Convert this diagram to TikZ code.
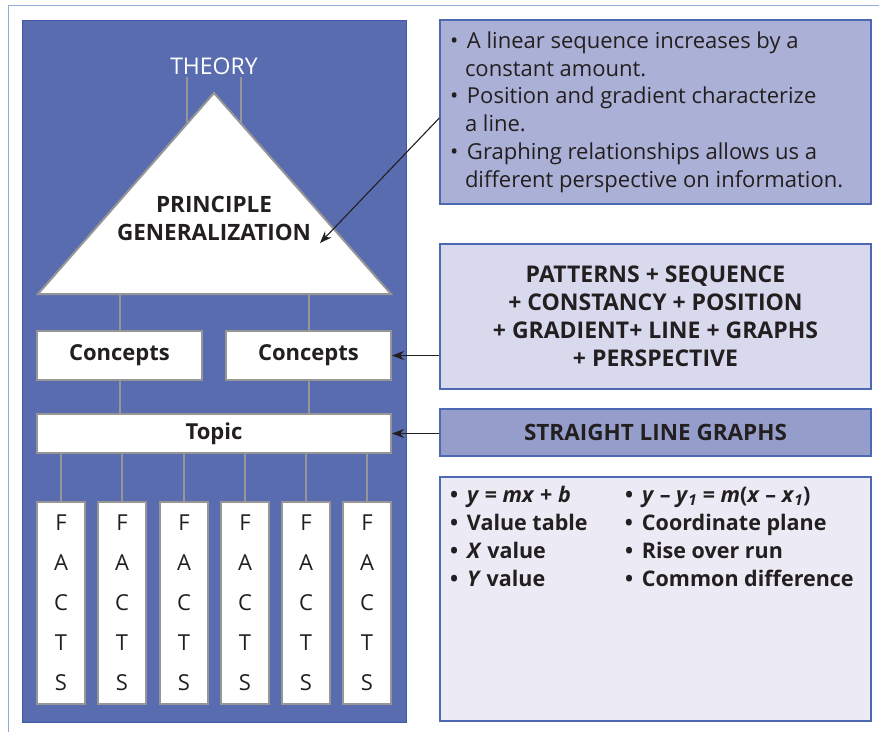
\documentclass[tikz,border=0pt]{standalone}
\usepackage{fontspec}
\setmainfont{Open Sans}
\usetikzlibrary{positioning,arrows.meta}
\definecolor{panelblue}{RGB}{89,108,176}
\definecolor{paneledge}{RGB}{62,88,168}
\definecolor{frameblue}{RGB}{150,170,215}
\definecolor{linkgrey}{RGB}{150,150,150}
\definecolor{boxedge}{RGB}{77,105,180}
\definecolor{boxone}{RGB}{171,176,214}
\definecolor{boxtwo}{RGB}{217,217,238}
\definecolor{boxthree}{RGB}{149,158,203}
\definecolor{boxfour}{RGB}{236,235,245}
\definecolor{ink}{RGB}{35,31,32}
\newcommand{\bul}{\makebox[17pt][l]{\textbullet}}
\begin{document}
\begin{tikzpicture}[x=1pt, y=-1pt, >={Stealth[length=12pt,width=9pt]}]
  \tikzset{
  whitebox/.style={
    rectangle,
    draw=linkgrey,
    line width=2pt,
    fill=white,
    inner sep=0pt,
    text=ink,
    font=\fontsize{22}{26}\selectfont\bfseries
  },
  factbox/.style={
    whitebox,
    minimum width=48pt,
    minimum height=202pt,
    align=center,
    font=\fontsize{22}{40}\selectfont
  },
  sidebox/.style={
    rectangle,
    draw=boxedge,
    line width=1.4pt,
    minimum width=431pt,
    inner sep=0pt,
    text=ink
  },
  link/.style={
    draw=linkgrey,
    line width=2pt
  },
  pointer/.style={
    ->,
    draw=ink,
    line width=1.1pt
  }
}

\useasboundingbox (0,0) rectangle (879,732);
\draw[frameblue, line width=0.8pt] (8,732) -- (8,5) -- (879,5);
\fill[panelblue] (22,20) rectangle (406,722);
\draw[paneledge, line width=0.8pt] (22,20) rectangle (406,722);

% theory + triangle
\node [text=white, font=\fontsize{23}{26}\selectfont, inner sep=2pt] (theory) at (214,66) {THEORY};
\draw[link] (theory.south -| 187,0) -- (187,150);
\draw[link] (theory.south -| 241,0) -- (241,150);
\coordinate (tri-top) at (214,93);
\coordinate (tri-left) at (38,294);
\coordinate (tri-right) at (391,294);
\filldraw[fill=white, draw=linkgrey, line width=2pt, line join=miter] (tri-top) -- (tri-right) -- (tri-left) -- cycle;
\node [text=ink, align=center, font=\fontsize{22.5}{28}\selectfont\bfseries] (principle) at (214,218) {PRINCIPLE\\GENERALIZATION};

% concepts + topic
\foreach \x [count=\i] in {119.5,308.5}
  \node [whitebox, minimum width=165pt, minimum height=49pt] (concept-\i) at (\x,355.5) {Concepts};
\node [whitebox, minimum width=354pt, minimum height=39pt] (topic) at (214,433.5) {Topic};

\foreach \i in {1,2}
  \draw[link] (concept-\i.north) -- (concept-\i.north |- tri-left);
\foreach \i in {1,2}
  \draw[link] (concept-\i.south) -- (concept-\i.south |- topic.north);

% facts
\foreach \x [count=\i] in {61,122,184,245,306,367}
  \node [factbox] (facts-\i) at (\x,603) {F\\A\\C\\T\\S};
\foreach \i in {1,...,6}
  \draw[link] (facts-\i.north) -- (facts-\i.north |- topic.south);

% right side boxes
\node [sidebox, fill=boxone, minimum height=184pt, font=\fontsize{22}{27.8}\selectfont] (ideas) at (655.5,112) {%
  \parbox{411pt}{\bul A linear sequence increases by a\\
  \hspace*{15pt}constant amount.\\
  \bul Position and gradient characterize\\
  \hspace*{15pt}a line.\\
  \bul Graphing relationships allows us a\\
  \hspace*{15pt}different perspective on information.}};
\node [sidebox, fill=boxtwo, minimum height=145pt, align=center, font=\fontsize{23}{28}\selectfont\bfseries] (keywords) at (655.5,316.5) {PATTERNS + SEQUENCE\\+ CONSTANCY + POSITION\\+ GRADIENT+ LINE + GRAPHS\\+ PERSPECTIVE};
\node [sidebox, fill=boxthree, minimum height=47pt, font=\fontsize{22.5}{26}\selectfont\bfseries] (title) at (655.5,432.5) {STRAIGHT LINE GRAPHS};
\node [sidebox, fill=boxfour, minimum height=244pt, font=\fontsize{21.5}{28}\selectfont\bfseries] (terms) at (655.5,599) {%
  \parbox[c][242pt][t]{411pt}{\vspace*{8pt}%
  \makebox[175pt][l]{\bul\textit{y} = \textit{mx} + \textit{b}}\bul\textit{y} – \textit{y}\textsubscript{\textit{1}} = \textit{m}(\textit{x} – \textit{x}\textsubscript{\textit{1}})\\
  \makebox[175pt][l]{\bul Value table}\bul Coordinate plane\\
  \makebox[175pt][l]{\bul\textit{X} value}\bul Rise over run\\
  \makebox[175pt][l]{\bul\textit{Y} value}\bul Common difference}};

% arrows
\coordinate (aim) at (320,243);
\draw[pointer] ([yshift=-6pt]ideas.west) -- (aim);
\draw[pointer] (keywords.west |- concept-2) -- (concept-2.east);
\draw[pointer] (title.west |- topic) -- (topic.east);
\end{tikzpicture}
\end{document}
